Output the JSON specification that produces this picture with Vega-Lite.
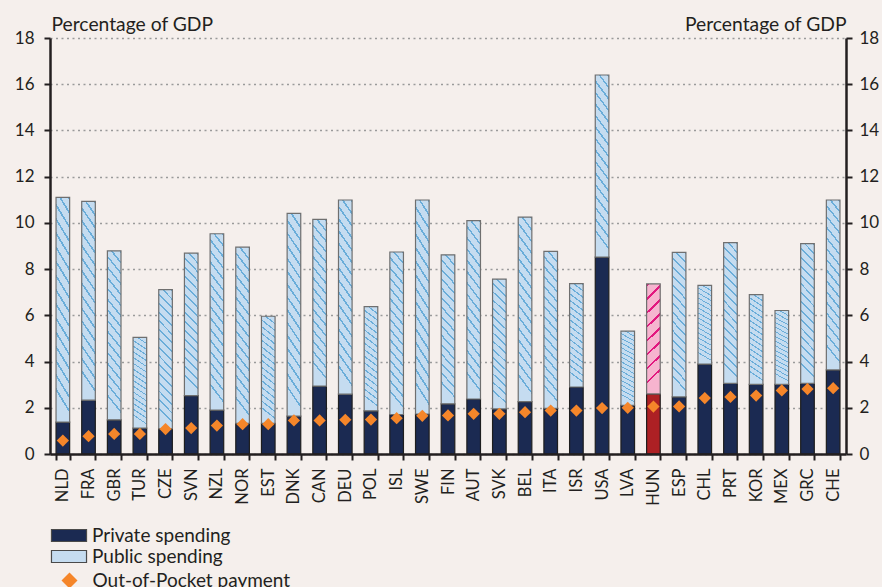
{
  "$schema": "https://vega.github.io/schema/vega-lite/v6.json",
  "width": 796,
  "height": 416,
  "autosize": {"type": "none"},
  "padding": {"left": 50, "top": 38, "right": 36, "bottom": 133},
  "background": "#f5efec",
  "config": {
    "font": "Lato",
    "view": {"stroke": null},
    "axis": {"labelFont": "Lato", "titleFont": "Lato", "labelColor": "#231f20", "titleColor": "#231f20", "domainColor": "#231f20", "tickColor": "#231f20"}
  },
  "data": {
    "values": [
      {"country": "NLD", "private": 1.38, "public": 9.72, "oop": 0.58},
      {"country": "FRA", "private": 2.33, "public": 8.60, "oop": 0.77},
      {"country": "GBR", "private": 1.48, "public": 7.31, "oop": 0.87},
      {"country": "TUR", "private": 1.12, "public": 3.93, "oop": 0.87},
      {"country": "CZE", "private": 1.10, "public": 6.01, "oop": 1.08},
      {"country": "SVN", "private": 2.53, "public": 6.16, "oop": 1.12},
      {"country": "NZL", "private": 1.90, "public": 7.63, "oop": 1.23},
      {"country": "NOR", "private": 1.33, "public": 7.62, "oop": 1.29},
      {"country": "EST", "private": 1.33, "public": 4.63, "oop": 1.29},
      {"country": "DNK", "private": 1.64, "public": 8.77, "oop": 1.45},
      {"country": "CAN", "private": 2.94, "public": 7.21, "oop": 1.45},
      {"country": "DEU", "private": 2.59, "public": 8.40, "oop": 1.48},
      {"country": "POL", "private": 1.87, "public": 4.51, "oop": 1.49},
      {"country": "ISL", "private": 1.71, "public": 7.03, "oop": 1.55},
      {"country": "SWE", "private": 1.73, "public": 9.26, "oop": 1.65},
      {"country": "FIN", "private": 2.17, "public": 6.45, "oop": 1.67},
      {"country": "AUT", "private": 2.38, "public": 7.72, "oop": 1.74},
      {"country": "SVK", "private": 1.95, "public": 5.62, "oop": 1.74},
      {"country": "BEL", "private": 2.27, "public": 7.98, "oop": 1.81},
      {"country": "ITA", "private": 1.98, "public": 6.79, "oop": 1.88},
      {"country": "ISR", "private": 2.90, "public": 4.47, "oop": 1.88},
      {"country": "USA", "private": 8.52, "public": 7.88, "oop": 1.99},
      {"country": "LVA", "private": 2.11, "public": 3.21, "oop": 2.00},
      {"country": "HUN", "private": 2.60, "public": 4.76, "oop": 2.05},
      {"country": "ESP", "private": 2.47, "public": 6.25, "oop": 2.06},
      {"country": "CHL", "private": 3.89, "public": 3.41, "oop": 2.42},
      {"country": "PRT", "private": 3.06, "public": 6.09, "oop": 2.47},
      {"country": "KOR", "private": 3.01, "public": 3.89, "oop": 2.53},
      {"country": "MEX", "private": 3.01, "public": 3.20, "oop": 2.75},
      {"country": "GRC", "private": 3.06, "public": 6.04, "oop": 2.81},
      {"country": "CHE", "private": 3.64, "public": 7.35, "oop": 2.85}
    ]
  },
  "encoding": {
    "x": {
      "field": "country",
      "type": "nominal",
      "sort": null,
      "scale": {"paddingInner": 0.47, "paddingOuter": 0.235},
      "axis": {
        "title": null,
        "labelAngle": -90,
        "labelAlign": "right",
        "labelBaseline": "middle",
        "labelFontSize": 16.5,
        "labelPadding": 8,
        "tickBand": "extent",
        "tickSize": 6,
        "tickWidth": 2,
        "domainWidth": 2.5,
        "zindex": 1
      }
    }
  },
  "layer": [
    {
      "transform": [{"fold": ["private", "public"], "as": ["kind", "value"]}],
      "mark": {"type": "bar", "strokeWidth": 1.2},
      "encoding": {
        "y": {
          "field": "value",
          "type": "quantitative",
          "stack": "zero",
          "scale": {"domain": [0, 18], "nice": false},
          "axis": {
            "orient": "left",
            "values": [0, 2, 4, 6, 8, 10, 12, 14, 16, 18],
            "title": "Percentage of GDP",
            "titleAngle": 0,
            "titleAlign": "left",
            "titleBaseline": "alphabetic",
            "titleX": 1,
            "titleY": -8,
            "titleFontSize": 19.3,
            "titleFontWeight": "normal",
            "labelFontSize": 17,
            "labelPadding": 10,
            "tickSize": 6,
            "tickWidth": 2,
            "domainWidth": 2.5,
            "grid": true,
            "gridColor": "#9a9a9a",
            "gridDash": [2, 3.5],
            "gridWidth": 1.3,
            "zindex": 0
          }
        },
        "order": {"field": "kind", "type": "ordinal", "sort": "ascending"},
        "fill": {
          "condition": [
            {"test": "datum.country === 'HUN' && datum.kind === 'private'", "value": "#ad2024"},
            {"test": "datum.country === 'HUN'", "value": {
              "gradient": "linear", "x1": 0, "y1": 0, "x2": 0.12, "y2": 1,
              "stops": [
                {"offset": 0, "color": "#e2177f"}, {"offset": 0.0225, "color": "#e2177f"}, {"offset": 0.0225, "color": "#f6b4cf"}, {"offset": 0.125, "color": "#f6b4cf"},
                {"offset": 0.125, "color": "#e2177f"}, {"offset": 0.1475, "color": "#e2177f"}, {"offset": 0.1475, "color": "#f6b4cf"}, {"offset": 0.25, "color": "#f6b4cf"},
                {"offset": 0.25, "color": "#e2177f"}, {"offset": 0.2725, "color": "#e2177f"}, {"offset": 0.2725, "color": "#f6b4cf"}, {"offset": 0.375, "color": "#f6b4cf"},
                {"offset": 0.375, "color": "#e2177f"}, {"offset": 0.3975, "color": "#e2177f"}, {"offset": 0.3975, "color": "#f6b4cf"}, {"offset": 0.5, "color": "#f6b4cf"},
                {"offset": 0.5, "color": "#e2177f"}, {"offset": 0.5225, "color": "#e2177f"}, {"offset": 0.5225, "color": "#f6b4cf"}, {"offset": 0.625, "color": "#f6b4cf"},
                {"offset": 0.625, "color": "#e2177f"}, {"offset": 0.6475, "color": "#e2177f"}, {"offset": 0.6475, "color": "#f6b4cf"}, {"offset": 0.75, "color": "#f6b4cf"},
                {"offset": 0.75, "color": "#e2177f"}, {"offset": 0.7725, "color": "#e2177f"}, {"offset": 0.7725, "color": "#f6b4cf"}, {"offset": 0.875, "color": "#f6b4cf"},
                {"offset": 0.875, "color": "#e2177f"}, {"offset": 0.8975, "color": "#e2177f"}, {"offset": 0.8975, "color": "#f6b4cf"}, {"offset": 1, "color": "#f6b4cf"}
              ]
            }},
            {"test": "datum.kind === 'public'", "value": {
              "gradient": "linear", "x1": 1, "y1": 0, "x2": 0.9, "y2": 1,
              "stops": [
                {"offset": 0, "color": "#6aadd9"}, {"offset": 0.01375, "color": "#6aadd9"}, {"offset": 0.01375, "color": "#c5dcf0"}, {"offset": 0.0625, "color": "#c5dcf0"},
                {"offset": 0.0625, "color": "#6aadd9"}, {"offset": 0.07625, "color": "#6aadd9"}, {"offset": 0.07625, "color": "#c5dcf0"}, {"offset": 0.125, "color": "#c5dcf0"},
                {"offset": 0.125, "color": "#6aadd9"}, {"offset": 0.13875, "color": "#6aadd9"}, {"offset": 0.13875, "color": "#c5dcf0"}, {"offset": 0.1875, "color": "#c5dcf0"},
                {"offset": 0.1875, "color": "#6aadd9"}, {"offset": 0.20125, "color": "#6aadd9"}, {"offset": 0.20125, "color": "#c5dcf0"}, {"offset": 0.25, "color": "#c5dcf0"},
                {"offset": 0.25, "color": "#6aadd9"}, {"offset": 0.26375, "color": "#6aadd9"}, {"offset": 0.26375, "color": "#c5dcf0"}, {"offset": 0.3125, "color": "#c5dcf0"},
                {"offset": 0.3125, "color": "#6aadd9"}, {"offset": 0.32625, "color": "#6aadd9"}, {"offset": 0.32625, "color": "#c5dcf0"}, {"offset": 0.375, "color": "#c5dcf0"},
                {"offset": 0.375, "color": "#6aadd9"}, {"offset": 0.38875, "color": "#6aadd9"}, {"offset": 0.38875, "color": "#c5dcf0"}, {"offset": 0.4375, "color": "#c5dcf0"},
                {"offset": 0.4375, "color": "#6aadd9"}, {"offset": 0.45125, "color": "#6aadd9"}, {"offset": 0.45125, "color": "#c5dcf0"}, {"offset": 0.5, "color": "#c5dcf0"},
                {"offset": 0.5, "color": "#6aadd9"}, {"offset": 0.51375, "color": "#6aadd9"}, {"offset": 0.51375, "color": "#c5dcf0"}, {"offset": 0.5625, "color": "#c5dcf0"},
                {"offset": 0.5625, "color": "#6aadd9"}, {"offset": 0.57625, "color": "#6aadd9"}, {"offset": 0.57625, "color": "#c5dcf0"}, {"offset": 0.625, "color": "#c5dcf0"},
                {"offset": 0.625, "color": "#6aadd9"}, {"offset": 0.63875, "color": "#6aadd9"}, {"offset": 0.63875, "color": "#c5dcf0"}, {"offset": 0.6875, "color": "#c5dcf0"},
                {"offset": 0.6875, "color": "#6aadd9"}, {"offset": 0.70125, "color": "#6aadd9"}, {"offset": 0.70125, "color": "#c5dcf0"}, {"offset": 0.75, "color": "#c5dcf0"},
                {"offset": 0.75, "color": "#6aadd9"}, {"offset": 0.76375, "color": "#6aadd9"}, {"offset": 0.76375, "color": "#c5dcf0"}, {"offset": 0.8125, "color": "#c5dcf0"},
                {"offset": 0.8125, "color": "#6aadd9"}, {"offset": 0.82625, "color": "#6aadd9"}, {"offset": 0.82625, "color": "#c5dcf0"}, {"offset": 0.875, "color": "#c5dcf0"},
                {"offset": 0.875, "color": "#6aadd9"}, {"offset": 0.88875, "color": "#6aadd9"}, {"offset": 0.88875, "color": "#c5dcf0"}, {"offset": 0.9375, "color": "#c5dcf0"},
                {"offset": 0.9375, "color": "#6aadd9"}, {"offset": 0.95125, "color": "#6aadd9"}, {"offset": 0.95125, "color": "#c5dcf0"}, {"offset": 1, "color": "#c5dcf0"}
              ]
            }}
          ],
          "field": "kind",
          "type": "nominal",
          "scale": {"domain": ["private", "public"], "range": ["#1b2a52", "#c5dcf0"]},
          "legend": {
            "title": null,
            "orient": "none",
            "legendX": 9.5,
            "legendY": 488,
            "direction": "vertical",
            "symbolSize": 256,
            "symbolType": "M-2.19,-0.75H2.19V0.75H-2.19Z",
            "symbolOpacity": 1,
            "symbolStrokeColor": "#4a4a4a",
            "symbolStrokeWidth": 1.2,
            "labelFont": "Lato",
            "labelFontSize": 19,
            "labelColor": "#231f20",
            "labelOffset": 13.5,
            "labelLimit": 400,
            "rowPadding": 1,
            "labelExpr": "datum.value === 'private' ? 'Private spending' : 'Public spending'"
          }
        },
        "stroke": {
          "condition": {"test": "datum.kind === 'public'", "value": "#6f6f6f"},
          "value": "#1e1e1e"
        }
      }
    },
    {
      "mark": {"type": "point", "shape": "diamond", "filled": true, "size": 150, "fill": "#f5862a", "color": "#f5862a", "opacity": 1, "strokeWidth": 0},
      "encoding": {
        "y": {
          "field": "oop",
          "type": "quantitative",
          "axis": {
            "orient": "right",
            "values": [0, 2, 4, 6, 8, 10, 12, 14, 16, 18],
            "title": "Percentage of GDP",
            "titleAngle": 0,
            "titleAlign": "right",
            "titleBaseline": "alphabetic",
            "titleX": 0,
            "titleY": -8,
            "titleFontSize": 19.3,
            "titleFontWeight": "normal",
            "labelFontSize": 17,
            "labelPadding": 7,
            "tickSize": 6,
            "tickWidth": 2,
            "domainWidth": 2.5,
            "grid": false,
            "zindex": 1
          }
        },
        "shape": {
          "datum": "Out-of-Pocket payment",
          "scale": {"range": ["diamond"]},
          "legend": {
            "title": null,
            "orient": "none",
            "legendX": 10,
            "legendY": 533,
            "symbolSize": 256,
            "symbolFillColor": "#f5862a",
            "symbolStrokeWidth": 0,
            "symbolOpacity": 1,
            "labelFont": "Lato",
            "labelFontSize": 19,
            "labelColor": "#231f20",
            "labelOffset": 13.5,
            "labelLimit": 400
          }
        }
      }
    }
  ],
  "resolve": {"axis": {"y": "independent"}}
}
